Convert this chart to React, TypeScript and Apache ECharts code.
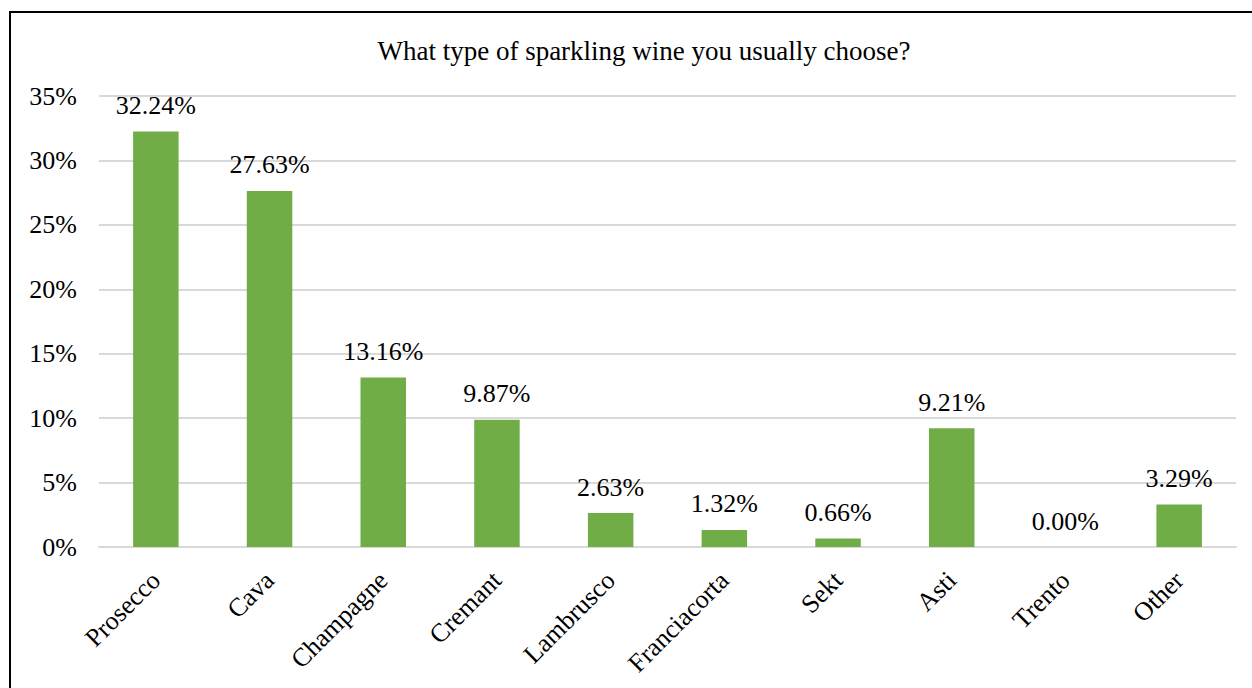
import React, { useEffect, useRef } from "react";
import * as echarts from "echarts";

const categories = [
  "Prosecco",
  "Cava",
  "Champagne",
  "Cremant",
  "Lambrusco",
  "Franciacorta",
  "Sekt",
  "Asti",
  "Trento",
  "Other",
];
const shares = [32.24, 27.63, 13.16, 9.87, 2.63, 1.32, 0.66, 9.21, 0.0, 3.29];
const yTicks = { min: 0, max: 35, interval: 5 };
const titleText = "What type of sparkling wine you usually choose?";

const FONT = "Liberation Serif";

export default function App() {
  const ref = useRef<HTMLDivElement>(null);

  useEffect(() => {
    if (!ref.current) return;
    const chart = echarts.init(ref.current, undefined, { renderer: "svg" });
    chart.setOption({
      animation: false,
      backgroundColor: "#ffffff",
      textStyle: { fontFamily: FONT, color: "#000" },
      title: {
        text: titleText,
        left: 639,
        top: 32,
        textAlign: "center",
        textStyle: { fontFamily: FONT, fontSize: 27, fontWeight: "normal", color: "#000" },
      },
      graphic: [
        {
          type: "rect",
          shape: { x: 10, y: 12, width: 1300, height: 740 },
          style: { fill: "none", stroke: "#000", lineWidth: 2 },
          silent: true,
        },
      ],
      grid: { left: 99, right: 16, top: 96, bottom: 141, containLabel: false },
      xAxis: {
        type: "category",
        data: categories,
        axisLine: { show: true, lineStyle: { color: "#d9d9d9", width: 2 } },
        axisTick: { show: false },
        axisLabel: {
          rotate: 45,
          margin: 29,
          interval: 0,
          fontFamily: FONT,
          fontSize: 26,
          color: "#000",
        },
      },
      yAxis: {
        type: "value",
        min: yTicks.min,
        max: yTicks.max,
        interval: yTicks.interval,
        axisLine: { show: false },
        axisTick: { show: false },
        axisLabel: {
          margin: 22,
          fontFamily: FONT,
          fontSize: 26,
          color: "#000",
          formatter: (v: number) => `${v}%`,
        },
        splitLine: { lineStyle: { color: "#d9d9d9", width: 2 } },
      },
      series: [
        {
          type: "bar",
          data: shares,
          barWidth: "40%",
          itemStyle: { color: "#70ad47" },
          label: {
            show: true,
            position: "top",
            distance: 13,
            fontFamily: FONT,
            fontSize: 26,
            color: "#000",
            formatter: (p: any) => `${Number(p.value).toFixed(2)}%`,
          },
        },
      ],
    });
    return () => chart.dispose();
  }, []);

  return (
    <div
      ref={ref}
      style={{ position: "fixed", left: 0, top: 0, width: 1252, height: 688 }}
    />
  );
}
